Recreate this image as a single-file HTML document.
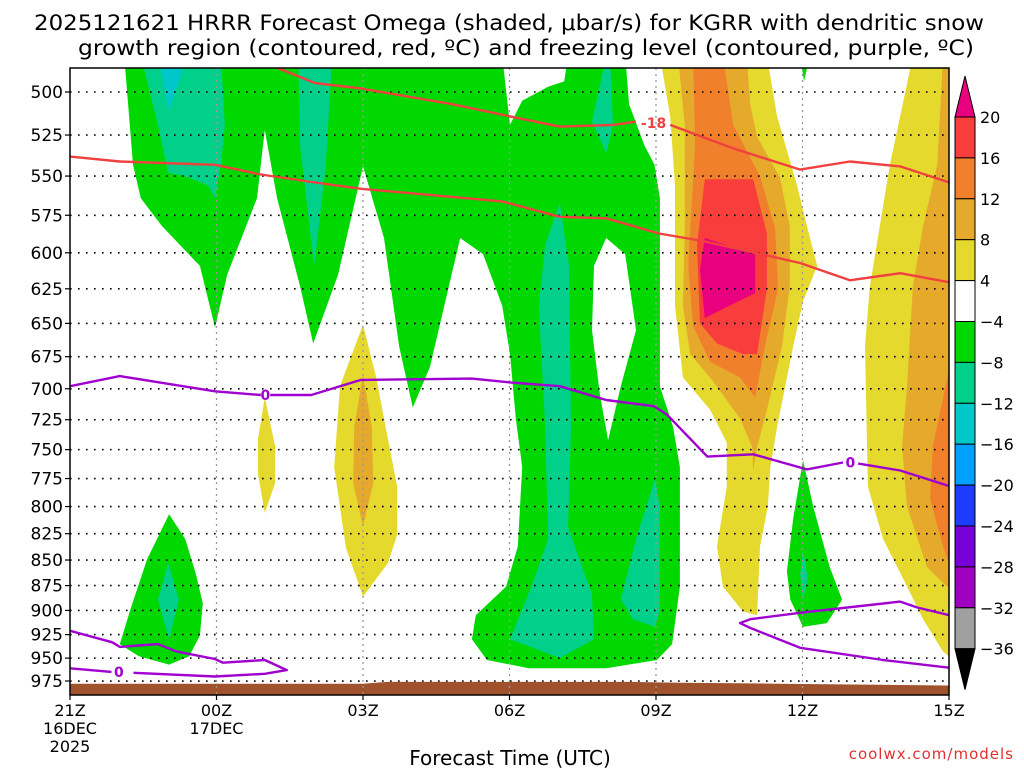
<!DOCTYPE html>
<html><head><meta charset="utf-8"><style>
html,body{margin:0;padding:0;background:#fff;}
svg{display:block;font-family:"DejaVu Sans","Liberation Sans",sans-serif;}
</style></head><body>
<svg id="chart" width="1024" height="768" viewBox="0 0 1024 768" xmlns="http://www.w3.org/2000/svg">
<rect width="1024" height="768" fill="#fff"/>
<text x="509" y="30" font-size="21" text-anchor="middle" textLength="950" lengthAdjust="spacingAndGlyphs">2025121621 HRRR Forecast Omega (shaded, μbar/s) for KGRR with dendritic snow</text>
<text x="526" y="55" font-size="21" text-anchor="middle" textLength="896" lengthAdjust="spacingAndGlyphs">growth region (contoured, red, ºC) and freezing level (contoured, purple, ºC)</text>
<defs><clipPath id="plotclip"><rect x="70" y="68" width="879" height="627"/></clipPath></defs>
<g id="shades" clip-path="url(#plotclip)"></g>
<g id="grid"></g>
<g id="lines" clip-path="url(#plotclip)"></g>
<rect x="70" y="68" width="879" height="627" fill="none" stroke="#000" stroke-width="1.5"/>
<g id="yaxis"></g>
<g id="xaxis"></g>
<g id="colorbar"></g>
<text x="510" y="765" font-size="20" text-anchor="middle">Forecast Time (UTC)</text>
<text x="1014" y="759" font-size="15" text-anchor="end" fill="#e03030" letter-spacing="1">coolwx.com/models</text>
</svg>
<script>
// ---- data ----
const pressureTicks = [500,525,550,575,600,625,650,675,700,725,750,775,800,825,850,875,900,925,950,975];
const timeTicks = [0,3,6,9,12,15,18];
const timeLabels = ["21Z","00Z","03Z","06Z","09Z","12Z","15Z"];
const dateLabels = ["16DEC","17DEC","","","","",""];
const yearLabels = ["2025","","","","","",""];
const cbLevels = [20,16,12,8,4,-4,-8,-12,-16,-20,-24,-28,-32,-36];
const cbColors = ["#f93c3c","#f0802c","#e5a92b","#e5d92e","#ffffff","#00d800","#00d08a","#00c8c8","#00a0ff","#1e3cff","#7800d8","#a000c0","#a0a0a0"];
// shaded regions: [hour, hPa]
const greenMain = [[1.11,480],[1.29,543],[1.45,564],[1.88,582],[2.66,609],[2.97,653],[3.22,615],[3.83,564],[3.99,522],[4.24,564],[4.71,623],[4.98,665],[5.49,615],[6.00,544],[6.43,590],[6.74,667],[7.02,715],[7.37,683],[7.99,590],[8.46,601],[8.85,637],[9.01,673],[9.13,724],[9.26,765],[9.17,837],[8.93,876],[8.31,905],[8.23,930],[8.54,952],[9.40,961],[10.98,961],[12.02,952],[12.33,935],[12.49,876],[12.49,765],[12.35,731],[12.08,698],[12.08,564],[11.97,543],[11.76,531],[11.45,507],[11.37,480],[10.2,480],[10.12,494],[9.79,497],[9.26,505],[9.01,519],[8.85,480]];
const whiteHole = [[10.98,590],[11.37,601],[11.59,655],[11.28,698],[11.02,742],[10.85,704],[10.69,655],[10.73,609]];
const teal1 = [[1.45,480],[1.80,519],[2.01,548],[2.36,550],[2.83,556],[2.97,564],[3.09,543],[3.17,519],[3.09,480]];
const cyan1 = [[1.80,480],[2.40,480],[2.03,511]];
const teal2 = [[4.67,480],[4.71,531],[5.00,609],[5.24,543],[5.37,480]];
const teal3 = [[10.03,567],[9.73,595],[9.60,637],[9.73,731],[9.79,830],[9.48,872],[9.01,930],[10.03,950],[10.73,930],[10.69,884],[10.20,819],[10.26,731],[10.22,609]];
const teal4 = [[10.98,480],[10.69,517],[10.98,536],[11.12,519],[11.06,480]];
const teal5 = [[11.98,775],[11.59,830],[11.28,889],[11.53,909],[11.98,917],[12.08,900],[12.08,800]];
const greenSmall = [[2.03,807],[2.36,830],[2.58,864],[2.72,893],[2.66,926],[2.44,948],[2.03,957],[1.41,948],[1.02,935],[1.25,897],[1.58,849]];
const tealSmall = [[2.01,853],[2.23,889],[2.03,930],[1.80,889]];
const green12z = [[15.01,759],[15.22,800],[15.56,857],[15.81,889],[15.50,913],[15.01,917],[14.75,889],[14.68,861],[14.81,811]];
const teal12z = [[15.01,841],[15.11,868],[15.01,889],[14.95,864]];
const greenTop12z = [[14.95,480],[15.15,480],[15.03,494]];
const yellow1 = [[3.99,707],[4.20,747],[4.20,779],[3.99,806],[3.85,771],[3.85,741]];
const yellow2 = [[6.00,651],[6.27,691],[6.51,741],[6.70,782],[6.70,826],[6.51,853],[6.00,886],[5.65,838],[5.41,765],[5.53,698]];
const dkyellow2 = [[6.00,689],[6.18,731],[6.21,779],[6.00,818],[5.80,779],[5.82,731]];
const yellowBig = [[12.08,480],[12.29,514],[12.39,556],[12.39,637],[12.55,691],[13.11,717],[13.45,744],[13.45,782],[13.25,837],[13.37,876],[13.78,901],[14.07,905],[14.13,837],[14.29,800],[14.34,765],[14.48,731],[14.81,667],[15.01,634],[15.30,609],[15.09,582],[14.89,556],[14.48,514],[14.27,480]];
const dkyellowBig = [[12.45,480],[12.59,519],[12.59,582],[12.55,637],[12.70,673],[13.17,694],[13.72,724],[13.97,748],[13.99,768],[14.07,748],[14.29,714],[14.58,667],[14.74,623],[14.74,582],[14.54,551],[14.07,526],[13.93,507],[13.86,480]];
const orangeBig = [[12.76,480],[12.80,531],[12.66,609],[12.76,652],[13.11,679],[13.72,691],[14.03,707],[14.23,667],[14.50,625],[14.44,584],[14.13,550],[13.58,519],[13.37,480]];
const redBig = [[13.00,552],[13.99,552],[14.27,587],[14.27,625],[14.07,673],[13.78,673],[13.25,665],[12.90,650],[12.84,595]];
const magentaBig = [[13.00,590],[14.03,601],[14.03,628],[13.00,646],[12.90,612]];
const yellowRight = [[17.26,480],[16.79,543],[16.38,623],[16.28,667],[16.34,782],[16.65,830],[17.06,868],[17.47,909],[17.88,943],[18.1,952],[18.1,480]];
const dkyellowRight = [[17.88,480],[17.76,543],[17.47,582],[17.26,623],[17.14,698],[17.04,747],[17.14,800],[17.55,857],[17.96,876],[18.1,876],[18.1,480]];
const orangeRight = [[18.1,667],[17.67,747],[17.61,793],[17.88,837],[18.1,868]];
const surface = [[0,978],[6,978],[6.5,976],[11.5,976],[12.5,977],[14.5,978],[18.1,980]];
// contour lines
const dgzTopA = [[4.20,486],[5.02,495],[5.96,498],[7.84,507],[9.01,514],[10.03,520],[11.12,519],[11.59,517]];
const dgzTopB = [[12.29,519],[13.58,533],[14.95,546],[15.97,541],[17.00,544],[18.1,555]];
const dgzBottom = [[0,538],[1.02,541],[2.97,543],[3.91,549],[5.02,554],[5.96,558],[8.85,566],[10.03,576],[10.98,577],[12.06,587],[12.96,592],[14.95,607],[15.97,619],[17.00,614],[18.1,621]];
const frzA = [[0,698],[1.02,690],[2.97,702],[3.91,705]];
const frzB = [[4.10,705],[4.94,705],[5.96,693],[8.23,692],[9.01,695],[10.03,698],[10.98,709],[11.96,714],[12.23,721],[13.05,756],[13.99,754],[15.09,767],[15.83,761]];
const frzC = [[16.14,762],[17.00,768],[18.1,783]];
const frzLoopL = [[0,921],[0.86,933],[1.02,938],[1.80,935],[2.19,943],[2.97,951],[3.13,955],[3.99,952],[4.44,963],[3.99,967],[2.97,970],[1.3,966]];
const frzLoopL2 = [[0.85,965],[0,961]];
const frzLoopR = [[18.1,906],[17.35,897],[17.00,891],[15.01,902],[13.93,909],[13.72,913],[13.93,918],[14.95,939],[16.65,952],[18.1,961]];

// ---- axes ----
const X0=70, X1=949, Y0=92, YS=882;
function xOf(h){return X0 + h*(X1-X0)/18;}
function yOf(p){return Y0 + YS*Math.log(p/500);}
const NS="http://www.w3.org/2000/svg";
function mk(tag, attrs, parent){const e=document.createElementNS(NS,tag);for(const k in attrs)e.setAttribute(k,attrs[k]);parent.appendChild(e);return e;}
function pts(arr){return arr.map(d=>xOf(d[0]).toFixed(1)+","+yOf(d[1]).toFixed(1)).join(" ");}

const shades=document.getElementById("shades");
function shade(arr,color,name){
  const e=mk("polygon",{points:pts(arr),fill:color},shades);
  
  
}
shade(greenMain,"#00d800","omega-region-green-main");
shade(whiteHole,"#ffffff","omega-region-neutral-hole");
shade(teal1,"#00d08a","omega-region-teal-1");
shade(cyan1,"#00c8c8","omega-region-cyan-1");
shade(teal2,"#00d08a","omega-region-teal-2");
shade(teal3,"#00d08a","omega-region-teal-3");
shade(teal4,"#00d08a","omega-region-teal-4");
shade(teal5,"#00d08a","omega-region-teal-5");
shade(greenSmall,"#00d800","omega-region-green-small");
shade(tealSmall,"#00d08a","omega-region-teal-small");
shade(green12z,"#00d800","omega-region-green-12z");
shade(teal12z,"#00d08a","omega-region-teal-12z");
shade(greenTop12z,"#00d800","omega-region-green-top-12z");
shade(yellow1,"#e5d92e","omega-region-yellow-1");
shade(yellow2,"#e5d92e","omega-region-yellow-2");
shade(dkyellow2,"#e5a92b","omega-region-darkyellow-2");
shade(yellowBig,"#e5d92e","omega-region-yellow-big");
shade(dkyellowBig,"#e5a92b","omega-region-darkyellow-big");
shade(orangeBig,"#f0802c","omega-region-orange-big");
shade(redBig,"#f93c3c","omega-region-red-big");
shade(magentaBig,"#e8007e","omega-region-magenta-big");
shade(yellowRight,"#e5d92e","omega-region-yellow-right");
shade(dkyellowRight,"#e5a92b","omega-region-darkyellow-right");
shade(orangeRight,"#f0802c","omega-region-orange-right");
{
  const g=surface.concat([[18.1,1000],[0,1000]]);
  const e=mk("polygon",{points:pts(g),fill:"#a0522d"},shades);
  
  
}

// grid + y axis
const grid=document.getElementById("grid"), yax=document.getElementById("yaxis"), xax=document.getElementById("xaxis");
pressureTicks.forEach(p=>{
  const y=yOf(p);
  const l=mk("line",{x1:X0,x2:X1,y1:y,y2:y,stroke:"#000","stroke-width":1.6,"stroke-dasharray":"1.6 6.4"},grid);
  
  
  const t=mk("line",{x1:X0-5,x2:X0,y1:y,y2:y,stroke:"#000","stroke-width":1.2},yax);
  
  
  const tx=mk("text",{x:X0-7,y:y+6,"font-size":17,"text-anchor":"end"},yax);
  tx.textContent=p;
  
  
});
timeTicks.forEach((h,i)=>{
  const x=xOf(h);
  if(i>0&&i<timeTicks.length-1){
    const l=mk("line",{x1:x,x2:x,y1:68,y2:695,stroke:"#999","stroke-width":1.3,"stroke-dasharray":"2 4"},grid);
    
    
  }
  const t=mk("line",{x1:x,x2:x,y1:695,y2:700,stroke:"#000","stroke-width":1.2},xax);
  
  
  [[timeLabels[i],716],[dateLabels[i],734],[yearLabels[i],752]].forEach(([s,yy],k)=>{
    if(!s) return;
    const tx=mk("text",{x:x,y:yy,"font-size":16,"text-anchor":"middle"},xax);
    tx.textContent=s;
    
    
  });
});

// contour lines
const lines=document.getElementById("lines");
function line(arr,color,name){
  const e=mk("polyline",{points:pts(arr),fill:"none",stroke:color,"stroke-width":2.4,"stroke-linejoin":"round"},lines);
  
  
}
line(dgzTopA,"#f04040","dgz-minus18-contour-a");
line(dgzTopB,"#f04040","dgz-minus18-contour-b");
line(dgzBottom,"#f04040","dgz-minus12-contour");
line(frzA,"#a000d0","freezing-level-contour-a");
line(frzB,"#a000d0","freezing-level-contour-b");
line(frzC,"#a000d0","freezing-level-contour-c");
line(frzLoopL,"#a000d0","freezing-level-loop-left");
line(frzLoopL2,"#a000d0","freezing-level-loop-left-b");
line(frzLoopR,"#a000d0","freezing-level-loop-right");
function lab(h,p,s,color,name){
  const t=mk("text",{x:xOf(h),y:yOf(p)+5,"font-size":14,"font-weight":"bold","text-anchor":"middle",fill:color},lines);
  t.textContent=s;
  
  
}
lab(11.95,518,"-18","#f04040","dgz-contour-label");
lab(4.0,705,"0","#a000d0","freezing-label-1");
lab(15.98,761,"0","#a000d0","freezing-label-2");
lab(1.0,965,"0","#a000d0","freezing-label-3");

// colorbar
const cb=document.getElementById("colorbar");
const CX=955, CW=20, CT=117, CH=40.9;
{
  const tri=mk("polygon",{points:`${CX},${CT} ${CX+CW},${CT} ${CX+CW/2},${CT-41}`,fill:"#e8007e",stroke:"#000","stroke-width":1},cb);
  
  
}
cbColors.forEach((c,i)=>{
  const r=mk("rect",{x:CX,y:CT+i*CH,width:CW,height:CH,fill:c,stroke:"#000","stroke-width":1},cb);
  
  
});
{
  const yb=CT+cbColors.length*CH;
  const tri=mk("polygon",{points:`${CX},${yb} ${CX+CW},${yb} ${CX+CW/2},${yb+41}`,fill:"#000",stroke:"#000","stroke-width":1},cb);
  
  
}
cbLevels.forEach((v,i)=>{
  const t=mk("text",{x:980,y:CT+i*CH+6,"font-size":16},cb);
  t.textContent=v<0?("\u2212"+(-v)):String(v);
  
  
});
</script>
</body></html>
